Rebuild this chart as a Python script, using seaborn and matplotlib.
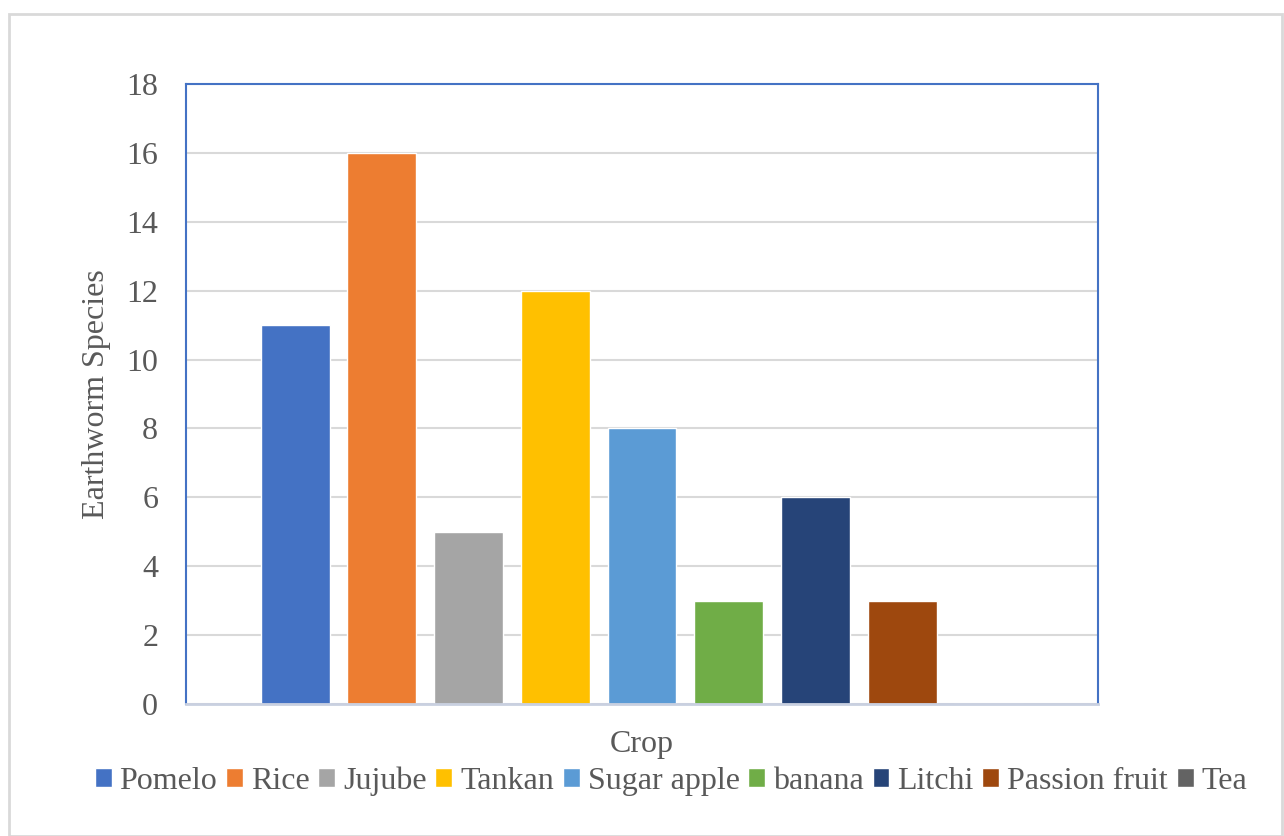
import numpy as np
import pandas as pd
import matplotlib
matplotlib.use('Agg')
import matplotlib.pyplot as plt
import seaborn as sns
from matplotlib.patches import Rectangle

# data
crops = ['Pomelo', 'Rice', 'Jujube', 'Tankan', 'Sugar apple', 'banana', 'Litchi', 'Passion fruit', 'Tea']
species = [11, 16, 5, 12, 8, 3, 6, 3, 0]
colors = ['#4472C4', '#ED7D31', '#A5A5A5', '#FFC000', '#5B9BD5', '#70AD47', '#264478', '#9E480E', '#636363']
yticks = [0, 2, 4, 6, 8, 10, 12, 14, 16, 18]

df = pd.DataFrame({'group': [''] * len(crops), 'Crop': crops, 'species': species})

sns.set_style('white')
plt.rcParams['font.family'] = ['Liberation Serif', 'DejaVu Serif']
txt = '#595959'

fig = plt.figure(figsize=(12.84, 8.36), dpi=100)
ax = fig.add_axes([186/1284, 1-704/836, (1098-186)/1284, (704-84)/836])

sns.barplot(data=df, x='group', y='species', hue='Crop', hue_order=crops,
            palette=dict(zip(crops, colors)), width=0.856, gap=0.205,
            saturation=1, ax=ax, legend=True)

ax.set_ylim(0, 18)
ax.set_yticks(yticks)
ax.set_xlim(-0.5, 0.5)
ax.set_xticks([])
ax.yaxis.grid(True, color='#D9D9D9', linewidth=1.5)
ax.set_axisbelow(True)
ax.tick_params(axis='y', length=0, pad=20, labelsize=23, labelcolor=txt)
for s in ['left', 'top', 'right']:
    ax.spines[s].set_color('#4472C4')
    ax.spines[s].set_linewidth(1.5)
ax.spines['bottom'].set_color('#C9D0E0')
ax.spines['bottom'].set_linewidth(2)

ax.set_ylabel('Earthworm Species', fontsize=23, color=txt, labelpad=11)
ax.set_xlabel('Crop', fontsize=23, color=txt, labelpad=19)

handles, labels = ax.get_legend_handles_labels()
ax.get_legend().remove()
fig.legend(handles, labels, loc='center', bbox_to_anchor=(671/1284, 1-781/836), ncol=9,
           frameon=False, fontsize=23, labelcolor=txt, handlelength=0.53, handleheight=0.53,
           handletextpad=0.25, columnspacing=0.27)

# outer chart frame
fig.patches.append(Rectangle((9/1284, 0), 1273/1284, 1-14/836, transform=fig.transFigure,
                             fill=False, edgecolor='#D9D9D9', linewidth=2))

fig.savefig('out.png', dpi=100)
